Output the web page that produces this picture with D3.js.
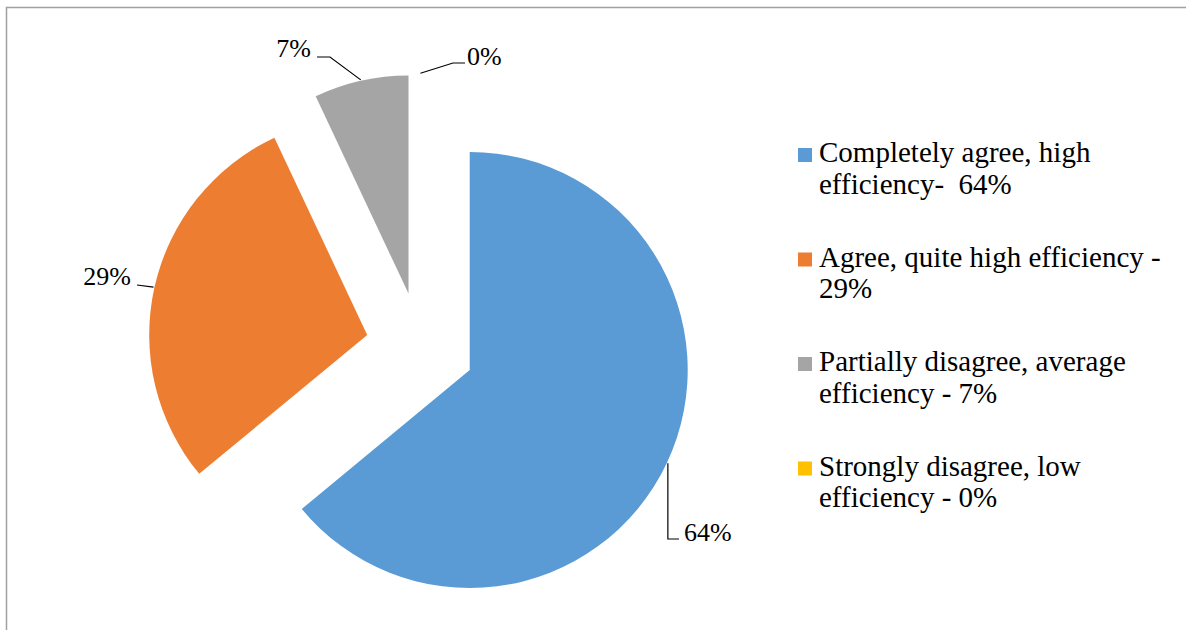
<!DOCTYPE html>
<html>
<head>
<meta charset="utf-8">
<script src="https://cdn.jsdelivr.net/npm/d3@7"></script>
<style>
  html, body { margin: 0; padding: 0; background: #fff; }
  svg { display: block; }
  svg text { font-family: "Liberation Serif", "DejaVu Serif", "Times New Roman", Times, serif; fill: #000; white-space: pre; }
</style>
</head>
<body>
<svg id="chart" width="1186" height="630"></svg>
<script>
// Survey responses on efficiency
const categories = [
  "Completely agree, high efficiency-  64%",
  "Agree, quite high efficiency - 29%",
  "Partially disagree, average efficiency - 7%",
  "Strongly disagree, low efficiency - 0%"
];
const legendLines = [
  ["Completely agree, high", "efficiency-  64%"],
  ["Agree, quite high efficiency -", "29%"],
  ["Partially disagree, average", "efficiency - 7%"],
  ["Strongly disagree, low", "efficiency - 0%"]
];
const values = [64, 29, 7, 0];
const valueLabels = ["64%", "29%", "7%", "0%"];
const colors = ["#5B9BD5", "#ED7D31", "#A5A5A5", "#FFC000"];

const FONT = "'Liberation Serif', 'DejaVu Serif', 'Times New Roman', serif";

const svg = d3.select("#chart");
const W = 1186, H = 630;

// chart area frame
svg.append("rect")
  .attr("x", 6.5).attr("y", 7.5)
  .attr("width", W + 10).attr("height", H + 10)
  .attr("fill", "#fff")
  .attr("stroke", "#a0a0a0").attr("stroke-width", 1.5);

const cx = 420.4, cy = 346.8, R = 218, explode = 54.5;

const pie = d3.pie().sort(null).value(d => d).startAngle(0).endAngle(2 * Math.PI);
const arcs = pie(values);
const arc = d3.arc().innerRadius(0).outerRadius(R);

// unit direction for an angle measured clockwise from 12 o'clock
const dir = a => [Math.sin(a), -Math.cos(a)];

const g = svg.append("g").attr("transform", `translate(${cx},${cy})`);

arcs.forEach(d => {
  const mid = (d.startAngle + d.endAngle) / 2;
  const [ux, uy] = dir(mid);
  d.ox = ux * explode;
  d.oy = uy * explode;
  d.mid = mid;
});

g.selectAll("path.slice")
  .data(arcs)
  .join("path")
  .attr("class", "slice")
  .attr("transform", d => `translate(${d.ox},${d.oy})`)
  .attr("d", arc)
  .attr("fill", (d, i) => colors[i]);

// leader lines and value labels: each leader starts on the slice's outer edge at its mid angle
const labelLayout = [
  { bend: p => [[p[0], 539], [679, 539]], tx: 684, ty: 541, anchor: "start" },
  { bend: p => [[137, 285]], tx: 131, ty: 285, anchor: "end" },
  { bend: p => [[330, 57], [317, 57]], tx: 311, ty: 57, anchor: "end" },
  { bend: p => [[453, 63], [465, 63]], tx: 467, ty: 65, anchor: "start" }
];

const line = d3.line();
arcs.forEach((d, i) => {
  const [ux, uy] = dir(d.mid);
  const start = [cx + d.ox + ux * (R + 1), cy + d.oy + uy * (R + 1)];
  const L = labelLayout[i];
  const pts = [start].concat(L.bend(start));
  svg.append("path")
    .attr("d", line(pts))
    .attr("fill", "none")
    .attr("stroke", "#000")
    .attr("stroke-width", 1.2);
  svg.append("text")
    .attr("x", L.tx).attr("y", L.ty)
    .attr("text-anchor", L.anchor)
    .attr("font-family", FONT)
    .attr("font-size", 26)
    .text(valueLabels[i]);
});

// legend
const legend = svg.append("g");
const legY0 = 162, legStep = 104.5, lineGap = 31.5;
legendLines.forEach((lines, i) => {
  const y = legY0 + i * legStep;
  legend.append("rect")
    .attr("x", 798).attr("y", y - 14)
    .attr("width", 14).attr("height", 14)
    .attr("fill", colors[i]);
  const t = legend.append("text")
    .attr("x", 819).attr("y", y)
    .attr("font-family", FONT)
    .attr("font-size", 29);
  lines.forEach((s, k) => {
    t.append("tspan").attr("x", 819).attr("y", y + k * lineGap).text(s);
  });
});
</script>
</body>
</html>
